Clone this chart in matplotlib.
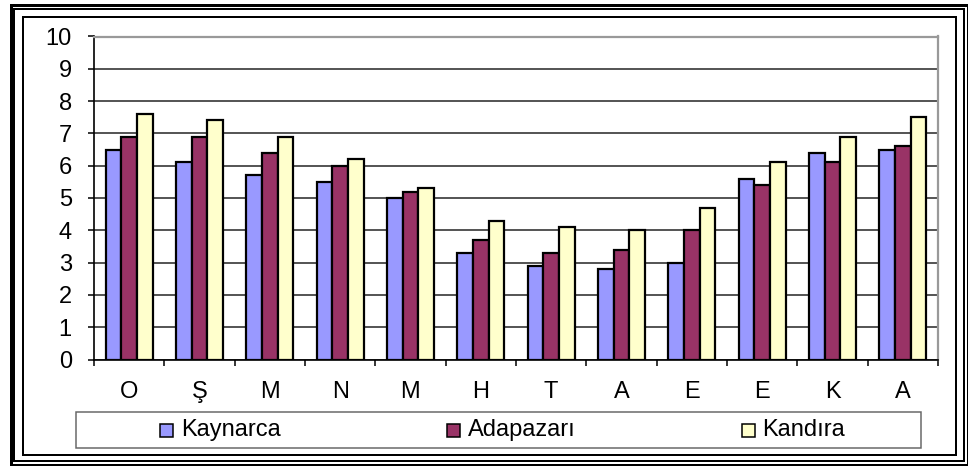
import numpy as np
import matplotlib
matplotlib.use("Agg")
import matplotlib.pyplot as plt
from matplotlib.patches import Rectangle

# Monthly values for three stations
months = ["O", "Ş", "M", "N", "M", "H", "T", "A", "E", "E", "K", "A"]
kaynarca = [6.5, 6.1, 5.7, 5.5, 5.0, 3.3, 2.9, 2.8, 3.0, 5.6, 6.4, 6.5]
adapazari = [6.9, 6.9, 6.4, 6.0, 5.2, 3.7, 3.3, 3.4, 4.0, 5.4, 6.1, 6.6]
kandira = [7.6, 7.4, 6.9, 6.2, 5.3, 4.3, 4.1, 4.0, 4.7, 6.1, 6.9, 7.5]

series_names = ["Kaynarca", "Adapazarı", "Kandıra"]
series_colors = ["#9999FF", "#993366", "#FFFFCC"]
y_ticks = list(range(0, 11))

plt.rcParams["font.family"] = ["Liberation Sans", "DejaVu Sans"]
FS = 17

W, H = 968, 466
fig = plt.figure(figsize=(W / 100, H / 100), dpi=100)
fig.patch.set_facecolor("white")


def fx(px):
    return px / W


def fy(py):
    return 1 - py / H


def frame(left, top, right, bottom, lw_px, color="black"):
    r = Rectangle((fx(left), fy(bottom)), fx(right) - fx(left), fy(top) - fy(bottom),
                  transform=fig.transFigure, fill=False, edgecolor=color,
                  linewidth=lw_px * 0.72, zorder=10)
    fig.add_artist(r)


# Double outer border and inner chart-area border
frame(10.5, 5, 967.5, 464.5, 3)
frame(14, 9, 964, 460.5, 2)
frame(23, 17, 956, 455, 2)

# Plot area
ax_l, ax_r, ax_t, ax_b = 94, 938, 36.5, 359.5
ax = fig.add_axes([fx(ax_l), fy(ax_b), fx(ax_r) - fx(ax_l), fy(ax_t) - fy(ax_b)])

x = np.arange(len(months))
bw = 0.222
for i, (vals, col, name) in enumerate(zip([kaynarca, adapazari, kandira], series_colors, series_names)):
    ax.bar(x + (i - 1) * bw, vals, width=bw, color=col, edgecolor="black",
           linewidth=1.6, label=name, zorder=3)

ax.set_xlim(-0.5, len(months) - 0.5)
ax.set_ylim(0, 10)
ax.set_yticks(y_ticks)
ax.set_yticklabels([str(t) for t in y_ticks], fontsize=FS)
ax.set_xticks(x)
ax.set_xticklabels(months, fontsize=FS)
ax.set_xticks(np.arange(-0.5, len(months)), minor=True)
ax.tick_params(axis="x", which="major", length=0, pad=15.5)
ax.tick_params(axis="x", which="minor", length=4, width=1.1, direction="out", color="black")
ax.tick_params(axis="y", which="major", length=4, width=1.1, direction="out", pad=12, color="black")

ax.set_axisbelow(True)
ax.yaxis.grid(True, color="#454545", linewidth=1.3, zorder=0)
ax.spines["left"].set_color("black")
ax.spines["left"].set_linewidth(1.2)
ax.spines["bottom"].set_color("black")
ax.spines["bottom"].set_linewidth(1.2)
ax.spines["top"].set_color("#999999")
ax.spines["top"].set_linewidth(1.6)
ax.spines["right"].set_color("#999999")
ax.spines["right"].set_linewidth(1.6)
ax.spines["bottom"].set_zorder(5)

# Legend box with three entries
frame(76, 412, 921, 448, 1.5, color="#666666")
leg_pos = [(160, 181), (447, 468), (742, 762)]
for (mx, tx), col, name in zip(leg_pos, series_colors, series_names):
    sq = Rectangle((fx(mx), fy(437)), fx(13), 13 / H, transform=fig.transFigure,
                   facecolor=col, edgecolor="black", linewidth=1.1, zorder=11)
    fig.add_artist(sq)
    fig.text(fx(tx), fy(436), name, fontsize=FS, ha="left", va="baseline")

fig.savefig("out.png", dpi=100, facecolor="white")
